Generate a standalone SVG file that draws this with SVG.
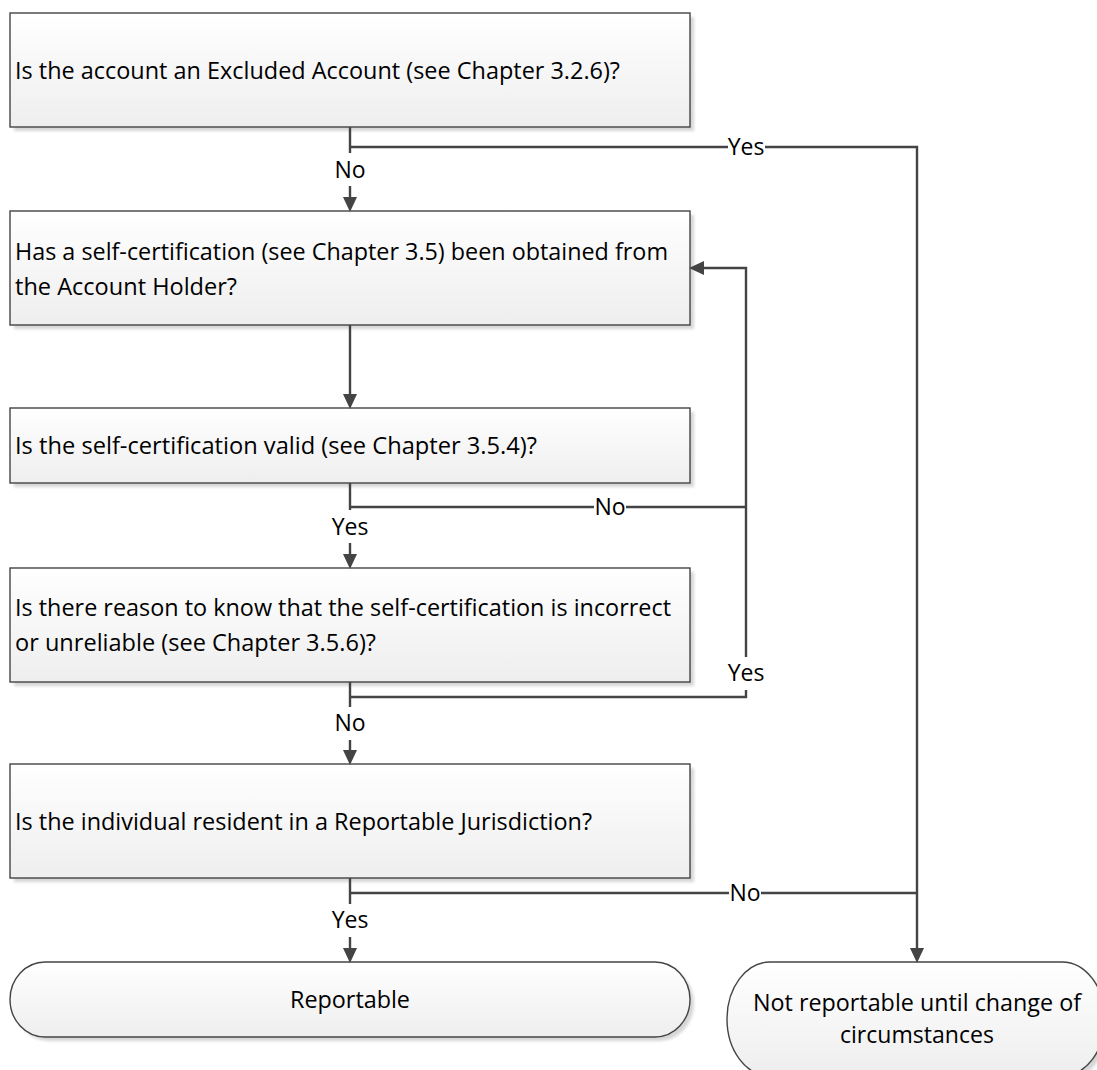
<svg xmlns="http://www.w3.org/2000/svg" width="1097" height="1070" viewBox="0 0 1097 1070">
<style>
.t{font-family:"Open Sans","Noto Sans","Liberation Sans",sans-serif;font-size:23px;fill:#000}
.c{text-anchor:middle}
.box{fill:url(#g);stroke:#444;stroke-width:1.4}
.sh{fill:#d6d6d6;filter:url(#blur)}
.con{fill:none;stroke:#444;stroke-width:2.4}
.lbg{fill:#fff}
</style>
<defs>
<linearGradient id="g" x1="0" y1="0" x2="0" y2="1">
<stop offset="0" stop-color="#ffffff"/>
<stop offset="1" stop-color="#eeeeee"/>
</linearGradient>
<filter id="blur" x="-5%" y="-20%" width="110%" height="140%"><feGaussianBlur stdDeviation="1.5"/></filter>
<marker id="arr" markerUnits="userSpaceOnUse" markerWidth="16" markerHeight="16" refX="8" refY="7" orient="auto">
<path d="M0,0 L15,7 L0,14 z" fill="#444"/>
</marker>
</defs>

<g id="n1">
<rect class="sh" x="14" y="17" width="680" height="114"/>
<rect class="box" x="10" y="13" width="680" height="114"/>
<text class="t" x="15" y="79" textLength="605" lengthAdjust="spacingAndGlyphs">Is the account an Excluded Account (see Chapter 3.2.6)?</text>
</g>
<g id="n2">
<rect class="sh" x="14" y="215" width="680" height="114"/>
<rect class="box" x="10" y="211" width="680" height="114"/>
<text class="t" x="15" y="260" textLength="653" lengthAdjust="spacingAndGlyphs">Has a self-certification (see Chapter 3.5) been obtained from</text>
<text class="t" x="15" y="295" textLength="222" lengthAdjust="spacingAndGlyphs">the Account Holder?</text>
</g>
<g id="n3">
<rect class="sh" x="14" y="412" width="680" height="75"/>
<rect class="box" x="10" y="408" width="680" height="75"/>
<text class="t" x="15" y="454" textLength="522" lengthAdjust="spacingAndGlyphs">Is the self-certification valid (see Chapter 3.5.4)?</text>
</g>
<g id="n4">
<rect class="sh" x="14" y="572" width="680" height="114"/>
<rect class="box" x="10" y="568" width="680" height="114"/>
<text class="t" x="15" y="616" textLength="656" lengthAdjust="spacingAndGlyphs">Is there reason to know that the self-certification is incorrect</text>
<text class="t" x="15" y="651" textLength="361" lengthAdjust="spacingAndGlyphs">or unreliable (see Chapter 3.5.6)?</text>
</g>
<g id="n5">
<rect class="sh" x="14" y="768" width="680" height="114"/>
<rect class="box" x="10" y="764" width="680" height="114"/>
<text class="t" x="15" y="830" textLength="577" lengthAdjust="spacingAndGlyphs">Is the individual resident in a Reportable Jurisdiction?</text>
</g>
<g id="n6">
<path class="sh" d="M49,966 H659 A35,37.5 0 0 1 659,1041 H49 A35,37.5 0 0 1 49,966 Z"/>
<path class="box" d="M45,962 H655 A35,37.5 0 0 1 655,1037 H45 A35,37.5 0 0 1 45,962 Z"/>
<text class="t c" x="350" y="1008" textLength="120" lengthAdjust="spacingAndGlyphs">Reportable</text>
</g>
<g id="n7">
<path class="sh" d="M774,966 H1066 A43,57 0 0 1 1066,1080 H774 A43,57 0 0 1 774,966 Z"/>
<path class="box" d="M770,962 H1062 A43,57 0 0 1 1062,1076 H770 A43,57 0 0 1 770,962 Z"/>
<text class="t c" x="917" y="1011" textLength="328" lengthAdjust="spacingAndGlyphs">Not reportable until change of</text>
<text class="t c" x="917" y="1043" textLength="154" lengthAdjust="spacingAndGlyphs">circumstances</text>
</g>

<g id="connectors">
<path class="con" d="M350,127 V205" marker-end="url(#arr)"/>
<path class="con" d="M350,147 H917 V956" marker-end="url(#arr)"/>
<path class="con" d="M350,325 V402" marker-end="url(#arr)"/>
<path class="con" d="M350,483 V562" marker-end="url(#arr)"/>
<path class="con" d="M350,507 H746"/>
<path class="con" d="M350,682 V758" marker-end="url(#arr)"/>
<path class="con" d="M350,697 H746 V268 H696" marker-end="url(#arr)"/>
<path class="con" d="M350,878 V956" marker-end="url(#arr)"/>
<path class="con" d="M350,893 H917"/>

<rect class="lbg" x="334" y="153" width="32" height="33"/>
<text class="t c" x="350" y="178">No</text>
<rect class="lbg" x="728" y="134" width="37" height="26"/>
<text class="t c" x="746" y="155">Yes</text>
<rect class="lbg" x="332" y="510" width="37" height="33"/>
<text class="t c" x="350" y="535">Yes</text>
<rect class="lbg" x="594" y="494" width="32" height="26"/>
<text class="t c" x="610" y="515">No</text>
<rect class="lbg" x="728" y="657" width="37" height="33"/>
<text class="t c" x="746" y="681">Yes</text>
<rect class="lbg" x="334" y="707" width="32" height="33"/>
<text class="t c" x="350" y="731">No</text>
<rect class="lbg" x="332" y="904" width="37" height="33"/>
<text class="t c" x="350" y="928">Yes</text>
<rect class="lbg" x="729" y="880" width="32" height="26"/>
<text class="t c" x="745" y="901">No</text>
</g>
</svg>
